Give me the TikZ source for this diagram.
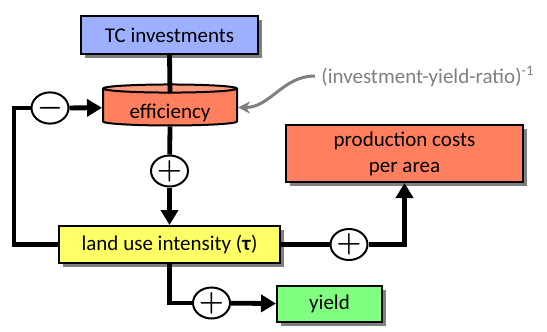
\documentclass[tikz,border=0pt]{standalone}
\usepackage{fontspec}
\usepackage{bm}
\setmainfont{Carlito}
\usetikzlibrary{arrows.meta, shapes.geometric, shadows}
\definecolor{tcblue}{HTML}{9DB0FF}
\definecolor{salmon}{HTML}{FF7F5F}
\definecolor{salmontop}{HTML}{FF9A7E}
\definecolor{lemon}{HTML}{FFFF66}
\definecolor{mint}{HTML}{80FF80}
\definecolor{notegray}{HTML}{7F7F7F}

\begin{document}
\begin{tikzpicture}[
  x=0.5pt, y=-0.5pt,
  font=\fontsize{10.5}{13}\selectfont,
  box/.style={draw=black, line width=1pt, align=center, inner sep=0pt,
              drop shadow={shadow xshift=2pt, shadow yshift=-2pt,
                           fill=black!50, opacity=1}},
  cyl/.style={cylinder, shape border rotate=90, aspect=0.1, draw=black,
              line width=1pt, cylinder uses custom fill,
              cylinder body fill=salmon, cylinder end fill=salmontop,
              minimum width=67pt, minimum height=20.5pt, inner sep=0pt,
              text height=11pt, text depth=0pt},
  sign/.style={ellipse, draw=black, line width=1pt, fill=white,
               minimum width=18.5pt, minimum height=15.5pt, inner sep=0pt,
               font=\fontsize{14}{14}\selectfont},
  ln/.style={line width=2.4pt},
  ar/.style={ln, -{Triangle[length=7.5pt, width=8.5pt]}},
  nar/.style={draw=notegray, line width=1.5pt, -{Stealth[length=6pt, width=6pt]}}
]
\useasboundingbox (0,0) rectangle (547,332);

% --- nodes ---
\node[box, fill=tcblue, minimum width=88.5pt, minimum height=19pt] (tc) at (169.5,35) {TC investments};
\node[cyl] (eff) at (170,107.5) {efficiency};
\node[sign] (minus) at (50,108) {$\bm{-}$};
\node[sign] (p1) at (169.5,171) {$\bm{+}$};
\node[box, fill=lemon, minimum width=110.5pt, minimum height=18.5pt] (land) at (169.5,244.5)
  {land use intensity (\textbf{τ})};
\node[sign] (p2) at (349,244.5) {$\bm{+}$};
\node[box, fill=salmon, minimum width=118.5pt, minimum height=28.5pt] (prod) at (404.5,153.5)
  {production costs\\ per area};
\node[sign] (p3) at (211.5,303) {$\bm{+}$};
\node[box, fill=mint, minimum width=52.5pt, minimum height=18pt] (yield) at (329.5,304) {yield};
\node[anchor=west, inner sep=0pt, notegray] (ratio) at (321,76)
  {(investment-yield-ratio)\textsuperscript{-1}};

% --- connectors ---
\draw[ln] (tc.south) -- ([yshift=-5pt]eff.north);
\draw[ln] (eff.south) -- (p1);
\draw[ar] (p1) -- (land);
\draw[ln] (land.west) -- ++(-44,0) |- (minus);
\draw[ar] (minus) -- (eff);
\draw[ln] (land) -- (p2);
\draw[ar] (p2) -| (prod);
\draw[ln] (land) |- (p3);
\draw[ar] (p3) -- (yield);
\draw[nar] ([xshift=-3pt]ratio.west) to[out=180, in=0] (eff.east);
\end{tikzpicture}
\end{document}
